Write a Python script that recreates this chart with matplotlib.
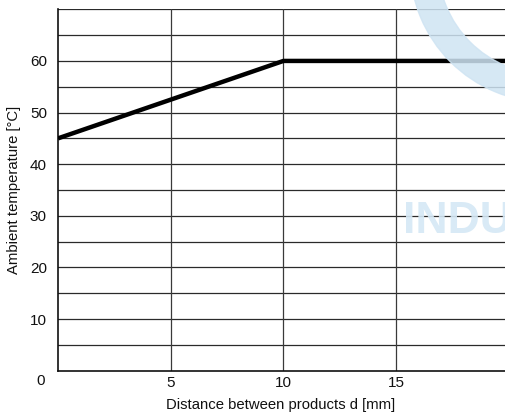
import matplotlib
matplotlib.use("Agg")
import matplotlib.pyplot as plt
from matplotlib.patches import Wedge
from matplotlib.transforms import IdentityTransform

plt.rcParams['font.family'] = ['Liberation Sans', 'DejaVu Sans']

# Data
distance = [0, 10, 20]
temperature = [45, 60, 60]
x_ticks = [5, 10, 15]
y_ticks = [10, 20, 30, 40, 50, 60]
x_label = "Distance between products d [mm]"
y_label = "Ambient temperature [°C]"

W, H = 505, 416
fig = plt.figure(figsize=(W / 100, H / 100), dpi=100)
left, right, top, bottom = 58, 505, 9.3, 370.7
ax = fig.add_axes([left / W, (H - bottom) / H, (right - left) / W, (bottom - top) / H])

ax.set_xlim(0, 19.83)
ax.set_ylim(0, 70)

# grid
for yv in range(5, 71, 5):
    ax.axhline(yv, color='#2a2a2a', lw=0.9, zorder=1)
for xv in x_ticks:
    ax.axvline(xv, color='#3a3a3a', lw=0.9, zorder=1)

ax.plot(distance, temperature, color='black', lw=3.2, solid_capstyle='butt', zorder=3, clip_on=True)

for s in ['right', 'top']:
    ax.spines[s].set_visible(False)
for s in ['left', 'bottom']:
    ax.spines[s].set_linewidth(1.2)
    ax.spines[s].set_color('#111111')

ax.set_xticks(x_ticks)
ax.set_yticks(y_ticks)
ax.tick_params(length=0, labelsize=11, colors='#111111')
ax.tick_params(axis='x', pad=3.5)
ax.tick_params(axis='y', pad=8)
fig.text(41 / W, (H - 381) / H, "0", fontsize=11, color='#111111', ha='center', va='center')

fig.text(281 / W, (H - 405) / H, x_label, ha='center', va='center', fontsize=10.7, color='#111111')
fig.text(14 / W, (H - 190) / H, y_label, ha='center', va='center', rotation=90, fontsize=10.7,
         color='#111111')

# watermark
ring = Wedge((548, H + 35.7), 138, 0, 360, width=28, transform=IdentityTransform(),
             color='#cfe4f3', alpha=0.85, zorder=10)
fig.add_artist(ring)
fig.text(403 / W, (H - 233) / H, "INDU", fontsize=32, fontweight='bold', color='#d5e8f5',
         alpha=0.9, ha='left', va='baseline', zorder=10)

fig.savefig("out.png", dpi=100)
